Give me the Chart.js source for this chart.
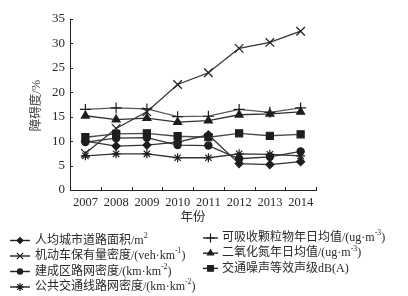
<!DOCTYPE html>
<html>
<head>
<meta charset="utf-8">
<script src="https://cdn.jsdelivr.net/npm/chart.js@4/dist/chart.umd.min.js"></script>
<style>
html,body{margin:0;padding:0;background:#fff;}
#wrap{width:408px;height:296px;position:relative;}
</style>
</head>
<body>
<div id="wrap"><canvas id="c" width="408" height="296"></canvas></div>
<script>
const years = ['2007','2008','2009','2010','2011','2012','2013','2014'];
const roadArea = [10.0, 9.0, 9.2, 9.8, 11.3, 5.4, 5.2, 5.8];
const vehicleDensity = [7.5, 12.6, 16.0, 21.6, 24.0, 29.0, 30.2, 32.5];
const builtRoadDensity = [9.8, 10.6, 10.7, 9.2, 9.1, 6.4, 6.8, 7.9];
const transitDensity = [7.0, 7.4, 7.4, 6.6, 6.6, 7.4, 7.3, 7.0];
const pm10 = [16.5, 16.8, 16.6, 15.0, 15.1, 16.5, 15.9, 16.8];
const no2 = [15.2, 14.4, 14.7, 13.9, 14.2, 15.4, 15.6, 16.0];
const noise = [10.8, 11.5, 11.6, 11.0, 10.8, 11.6, 11.1, 11.4];
const seriesNames = [
  '人均城市道路面积/m^{2}',
  '机动车保有量密度/(veh·km^{-1})',
  '建成区路网密度/(km·km^{-2})',
  '公共交通线路网密度/(km·km^{-2})',
  '可吸收颗粒物年日均值/(ug·m^{-3})',
  '二氧化氮年日均值/(ug·m^{-3})',
  '交通噪声等效声级dB(A)'
];
const yTitle = '障碍度/%';
const xTitle = '年份';
const yMin = 0, yMax = 35, yStep = 5;

const SERIF = '"Liberation Serif", "Noto Sans CJK SC", serif';
const TXT = '#2a2a2a';

function ds(label, data, style, radius, legendRadius, lineColor) {
  return {
    label, data,
    borderColor: lineColor || '#333',
    borderWidth: 1.3,
    pointStyle: style,
    pointRadius: radius,
    legendRadius: legendRadius,
    pointBackgroundColor: '#1e1e1e',
    pointBorderColor: '#1e1e1e',
    pointBorderWidth: 1.2,
    tension: 0,
    fill: false
  };
}

const datasets = [
  ds(seriesNames[0], roadArea, 'rectRot', 4, 3),
  ds(seriesNames[1], vehicleDensity, 'crossRot', 6, 4.5),
  ds(seriesNames[2], builtRoadDensity, 'circle', 3.6, 2.6),
  ds(seriesNames[3], transitDensity, 'star', 4.5, 4),
  ds(seriesNames[4], pm10, 'cross', 5.5, 4.5, '#5a5a5a'),
  ds(seriesNames[5], no2, 'triangle', 4.6, 3.5),
  ds(seriesNames[6], noise, 'rect', 5, 4, '#4a4a4a')
];

function drawRich(ctx, text, x, y, size) {
  const parts = text.split(/(\^\{[^}]*\})/);
  let cx = x;
  ctx.textBaseline = 'middle';
  ctx.textAlign = 'left';
  for (const p of parts) {
    if (!p) continue;
    const m = p.match(/^\^\{([^}]*)\}$/);
    if (m) {
      ctx.font = (size * 0.65) + 'px ' + SERIF;
      ctx.fillText(m[1], cx, y - size * 0.38);
      cx += ctx.measureText(m[1]).width;
    } else {
      ctx.font = size + 'px ' + SERIF;
      ctx.fillText(p, cx, y);
      cx += ctx.measureText(p).width;
    }
  }
}

const customPlugin = {
  id: 'custom',
  afterDraw(chart) {
    const ctx = chart.ctx;
    const xs = chart.scales.x, ys = chart.scales.y;
    ctx.save();
    // inward ticks
    ctx.strokeStyle = '#222';
    ctx.lineWidth = 1;
    ctx.beginPath();
    for (let v = yMin; v <= yMax; v += yStep) {
      const py = Math.round(ys.getPixelForValue(v)) + 0.5;
      ctx.moveTo(xs.left, py);
      ctx.lineTo(xs.left + 3, py);
    }
    for (let i = 0; i <= years.length; i++) {
      const px = Math.round(xs.getPixelForValue(i - 0.5)) + 0.5;
      ctx.moveTo(px, ys.bottom);
      ctx.lineTo(px, ys.bottom - 3);
    }
    ctx.stroke();

    // axis titles
    ctx.fillStyle = '#444';
    ctx.font = '12.5px ' + SERIF;
    ctx.textAlign = 'center';
    ctx.textBaseline = 'middle';
    ctx.save();
    ctx.translate(37, (ys.top + ys.bottom) / 2 + 1);
    ctx.rotate(-Math.PI / 2);
    ctx.fillText(yTitle, 0, 0);
    ctx.restore();
    ctx.fillStyle = TXT;
    ctx.fillText(xTitle, (xs.left + xs.right) / 2, 218);

    // legend
    const cols = [
      {idx: [0, 1, 2, 3], lx0: 10, lx1: 30, tx: 35, y0: 240.5, dy: 15.5},
      {idx: [4, 5, 6], lx0: 203, lx1: 218, tx: 222, y0: 238, dy: 15.2}
    ];
    const drawPoint = Chart.helpers && Chart.helpers.drawPoint;
    for (const col of cols) {
      col.idx.forEach((di, k) => {
        const d = chart.data.datasets[di];
        const y = col.y0 + k * col.dy;
        ctx.strokeStyle = '#222';
        ctx.lineWidth = 1.4;
        ctx.beginPath();
        ctx.moveTo(col.lx0, y);
        ctx.lineTo(col.lx1, y);
        ctx.stroke();
        if (drawPoint) {
          ctx.fillStyle = d.pointBackgroundColor;
          ctx.strokeStyle = d.pointBorderColor;
          ctx.lineWidth = d.pointBorderWidth;
          drawPoint(ctx, {pointStyle: d.pointStyle, radius: d.legendRadius, rotation: 0, borderWidth: d.pointBorderWidth}, (col.lx0 + col.lx1) / 2, y);
        }
        ctx.fillStyle = TXT;
        drawRich(ctx, d.label, col.tx, y, 12);
      });
    }
    ctx.restore();
  }
};

new Chart(document.getElementById('c'), {
  type: 'line',
  data: {labels: years, datasets},
  options: {
    responsive: false,
    animation: false,
    devicePixelRatio: 1,
    layout: {padding: {left: 0, right: 92, top: 19, bottom: 0}},
    plugins: {legend: {display: false}, tooltip: {enabled: false}, title: {display: false}},
    scales: {
      x: {
        type: 'category',
        offset: true,
        grid: {display: false, drawTicks: false},
        border: {display: true, color: '#222', width: 1},
        ticks: {color: TXT, font: {family: SERIF, size: 12.5}, padding: 5, maxRotation: 0, autoSkip: false},
        afterFit(s) { s.height = 106; }
      },
      y: {
        min: yMin, max: yMax,
        grid: {display: false, drawTicks: false},
        border: {display: true, color: '#222', width: 1},
        ticks: {stepSize: yStep, color: TXT, font: {family: SERIF, size: 13}, padding: 5},
        afterFit(s) { s.width = 70; }
      }
    }
  },
  plugins: [customPlugin]
});
</script>
</body>
</html>
